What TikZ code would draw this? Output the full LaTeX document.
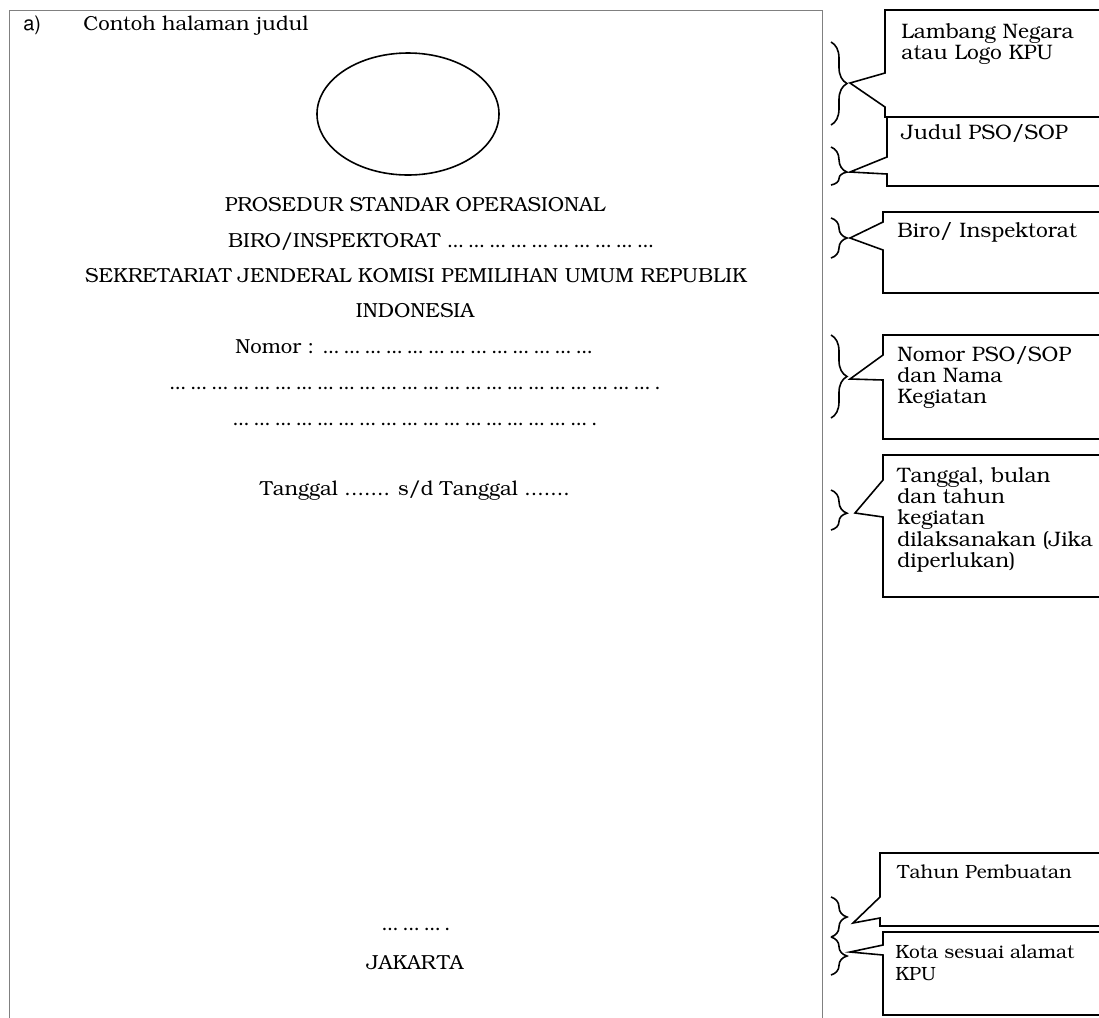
\documentclass[tikz,border=0pt]{standalone}
\usepackage[T1]{fontenc}
\usepackage{bookman}
\usepackage{tikz}
\usetikzlibrary{shapes.geometric, decorations.pathreplacing, positioning}
\tikzstyle{baris} = [inner sep=0pt, anchor=base, font=\fontsize{10.2}{12}\selectfont]
\tikzstyle{catatan} = [inner sep=0pt, anchor=north west, align=left, font=\fontsize{10.5}{10.75}\selectfont]
\tikzstyle{catatan kecil} = [catatan, font=\fontsize{9.6}{11}\selectfont]
\tikzstyle{kotak} = [draw, line width=0.8pt, line join=miter]
\tikzstyle{kurung} = [draw, line width=0.8pt, decorate, decoration={brace, amplitude=8bp}]
\newcommand{\titik}[1]{\foreach \k in {1,...,#1}{.\kern-0.5pt.\kern-0.5pt.\kern1.8pt}}

\begin{document}
\begin{tikzpicture}[x=0.5bp, y=-0.5bp]
\useasboundingbox (0,0) rectangle (1099,1018);

\draw [gray, line width=0.5pt] (9,1030) -- (9,10) -- (822,10) -- (822,1030);

\node [baris, anchor=base west, font=\fontfamily{phv}\fontsize{10}{12}\selectfont] at (23,30) (label_a) {a)};
\node [baris, anchor=base west] at (83,30) (judul) {Contoh halaman judul};

\node [draw, ellipse, line width=0.8pt, minimum width=91bp, minimum height=61bp] at (408,114) (logo) {};

\node [baris] at (415,211) (baris1) {PROSEDUR STANDAR OPERASIONAL};
\node [baris] at (443,247) (baris2) {BIRO/INSPEKTORAT \titik{10}};
\node [baris] at (416,282) (baris3) {SEKRETARIAT JENDERAL KOMISI PEMILIHAN UMUM REPUBLIK};
\node [baris] at (415,317) (baris4) {INDONESIA};
\node [baris] at (416,353) (baris5) {Nomor : \titik{13}};
\node [baris] at (415,389) (baris6) {\titik{23}.};
\node [baris] at (415,425) (baris7) {\titik{17}.};
\node [baris] at (415,495) (baris8) {Tanggal ....... s/d Tanggal .......};
\node [baris] at (416,930) (baris9) {\titik{2}.\kern-0.5pt.\kern-0.5pt.\kern1.5pt.};
\node [baris] at (415,969) (baris10) {JAKARTA};

\node [catatan] at (901,23) (note1) {Lambang Negara\\atau Logo KPU};
\node [catatan] at (901,124) (note2) {Judul PSO/SOP};
\node [catatan] at (897,222) (note3) {Biro/ Inspektorat};
\node [catatan] at (897,346) (note4) {Nomor PSO/SOP\\dan Nama\\Kegiatan};
\node [catatan] at (897,467) (note5) {Tanggal, bulan\\dan tahun\\kegiatan\\dilaksanakan (Jika\\diperlukan)};
\node [catatan kecil] at (897,865) (note6) {Tahun Pembuatan};
\node [catatan kecil] at (895,945) (note7) {Kota sesuai alamat\\KPU};

\draw [kotak] (1110,10) -| (885,73) -- (850,83) -- (885,107) |- (1110,117);
\draw [kotak] (1110,117) -| (887,157) -- (850,172) -- (887,174) |- (1110,186);
\draw [kotak] (1110,212) -| (883,222) -- (850,238) -- (883,250) |- (1110,293);
\draw [kotak] (1110,335) -| (883,355) -- (850,379) -- (883,380) |- (1110,439);
\draw [kotak] (1110,455) -| (883,480) -- (855,513) -- (883,517) |- (1110,597);
\draw [kotak] (1110,853) -| (880,897) -- (853,923) -- (880,918) |- (1110,926);
\draw [kotak] (1110,932) -| (883,945) -- (850,952) -- (883,955) |- (1110,1015);

\draw [kurung] (831,42) -- (831,125);
\draw [kurung, decoration={aspect=0.66}] (831,147) -- (831,185);
\draw [kurung] (831,218) -- (831,258);
\draw [kurung] (831,335) -- (831,418);
\draw [kurung, decoration={aspect=0.58}] (831,490) -- (831,530);
\draw [kurung] (831,897) -- (831,937);
\draw [kurung] (831,937) -- (831,975);

\end{tikzpicture}
\end{document}
